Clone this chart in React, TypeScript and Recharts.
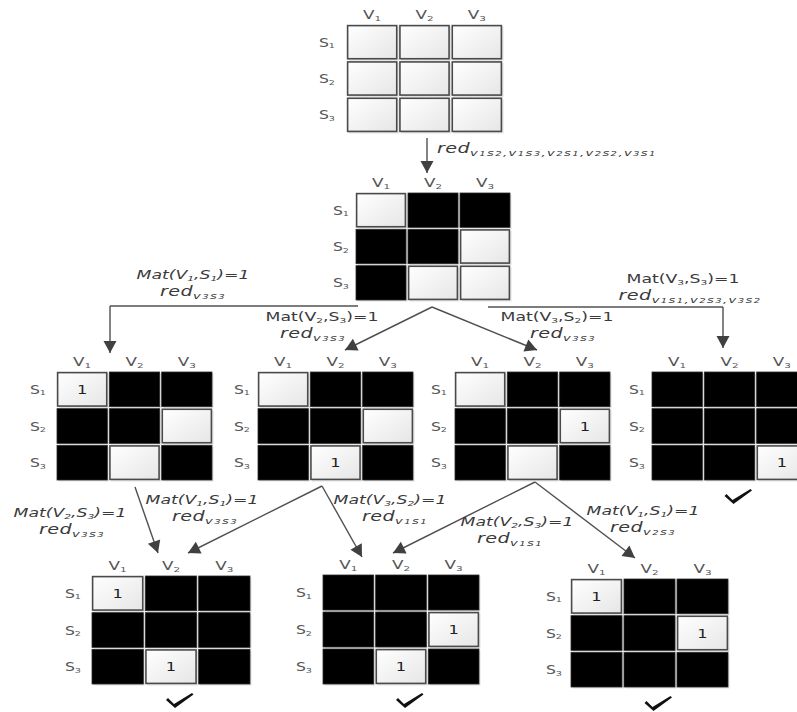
import React from 'react';
import { ScatterChart, Scatter, XAxis, YAxis, ReferenceLine } from 'recharts';

// ---------- data ----------
const colLabels = ['V1', 'V2', 'V3'];
const rowLabels = ['S1', 'S2', 'S3'];
// 0 = eliminated (black), 1 = open (white), 2 = assigned (white, "1")
const matStart = [[1, 1, 1], [1, 1, 1], [1, 1, 1]];
const matReduced = [[1, 0, 0], [0, 0, 1], [0, 1, 1]];
const matA = [[2, 0, 0], [0, 0, 1], [0, 1, 0]];
const matB = [[1, 0, 0], [0, 0, 1], [0, 2, 0]];
const matC = [[1, 0, 0], [0, 0, 2], [0, 1, 0]];
const matD = [[0, 0, 0], [0, 0, 0], [0, 0, 2]];
const matE = [[2, 0, 0], [0, 0, 0], [0, 2, 0]];
const matF = [[0, 0, 0], [0, 0, 2], [0, 2, 0]];
const matG = [[2, 0, 0], [0, 0, 2], [0, 0, 0]];
const matrices = [matStart, matReduced, matA, matB, matC, matD, matE, matF, matG];
const solved = [false, false, false, false, false, true, true, true, true];

const conditions = [
  'Mat(V1,S1)=1', 'Mat(V2,S3)=1', 'Mat(V3,S2)=1', 'Mat(V3,S3)=1',
  'Mat(V2,S3)=1', 'Mat(V1,S1)=1', 'Mat(V3,S2)=1', 'Mat(V2,S3)=1', 'Mat(V1,S1)=1',
];
const reductions = [
  'v1s2,v1s3,v2s1,v2s2,v3s1',
  'v3s3', 'v3s3', 'v3s3', 'v1s1,v2s3,v3s2',
  'v3s3', 'v3s3', 'v1s1', 'v1s1', 'v2s3',
];

// ---------- layout (data units of the hidden axes) ----------
const matrixLayout = [
  { x: 346, y: 24, w: 157, h: 109, sdx: -19 },
  { x: 355, y: 192, w: 156, h: 109, sdx: -14 },
  { x: 56, y: 371, w: 157, h: 110, sdx: -18 },
  { x: 257, y: 371, w: 157, h: 110, sdx: -15 },
  { x: 454, y: 371, w: 157, h: 110, sdx: -15 },
  { x: 651, y: 371, w: 157, h: 110, sdx: -14 },
  { x: 91, y: 575, w: 160, h: 110, sdx: -18 },
  { x: 322, y: 574, w: 158, h: 111, sdx: -18 },
  { x: 570, y: 578, w: 159, h: 110, sdx: -16 },
];
const conditionLayout = [
  { x: 193, y: 279, it: true }, { x: 322, y: 321, it: false }, { x: 557, y: 321, it: false }, { x: 683, y: 283, it: false },
  { x: 70, y: 517, it: true }, { x: 202, y: 504, it: true }, { x: 390, y: 504, it: true }, { x: 517, y: 526, it: true }, { x: 643, y: 515, it: true },
];
const reductionLayout = [
  { x: 437, y: 153, a: 'start' },
  { x: 193, y: 296, a: 'middle' }, { x: 313, y: 338, a: 'middle' }, { x: 563, y: 338, a: 'middle' }, { x: 690, y: 300, a: 'middle' },
  { x: 72, y: 534, a: 'middle' }, { x: 205, y: 521, a: 'middle' }, { x: 395, y: 521, a: 'middle' }, { x: 510, y: 543, a: 'middle' }, { x: 643, y: 532, a: 'middle' },
];
const arrowPaths = [
  [[427, 138], [427, 173]],
  [[358, 306], [110, 306], [110, 353]],
  [[432, 307], [345, 350]],
  [[432, 307], [537, 350]],
  [[488, 307], [723, 307], [723, 348]],
  [[135, 487], [158, 553]],
  [[322, 486], [188, 553]],
  [[322, 486], [362, 557]],
  [[535, 482], [393, 553]],
  [[535, 482], [635, 558]],
];

// ---------- derived point sets ----------
type Part = { t: string; s: number; d: number; ls: number };

function matParts(str: string): Part[] {
  const out: Part[] = [];
  for (let i = 0; i < str.length; i++) {
    const ch = str[i];
    const sub = /\d/.test(ch) && i > 0 && /[VS]/.test(str[i - 1]);
    out.push(sub ? { t: ch, s: 0.62, d: 1.5, ls: 0 } : { t: ch, s: 1, d: 0, ls: 0 });
  }
  return out;
}
function redParts(sub: string): Part[] {
  const out: Part[] = [{ t: 'red', s: 1, d: 0, ls: 0.3 }];
  for (const ch of sub)
    out.push(/\d/.test(ch) ? { t: ch, s: 0.52, d: 2.5, ls: 1 } : { t: ch, s: 0.68, d: 2.5, ls: 1 });
  return out;
}
function merge(parts: Part[]): Part[] {
  const out: Part[] = [];
  for (const p of parts) {
    const last = out[out.length - 1];
    if (last && last.s === p.s && last.d === p.d && last.ls === p.ls) last.t += p.t;
    else out.push({ ...p });
  }
  return out;
}

const cellPoints: any[] = [];
const textPoints: any[] = [];
const checkPoints: any[] = [];
matrices.forEach((m, mi) => {
  const L = matrixLayout[mi];
  const cw = L.w / 3;
  const ch = L.h / 3;
  m.forEach((row, r) =>
    row.forEach((v, c) => {
      cellPoints.push({ x: L.x + (c + 0.5) * cw, y: L.y + (r + 0.5) * ch, cw, ch, v, id: `g${mi}_${r}_${c}` });
    })
  );
  colLabels.forEach((lab, c) =>
    textPoints.push({ x: L.x + (c + 0.5) * cw, y: L.y - 5, parts: merge(matParts(lab)), size: 12, it: false, a: 'middle', sx: 1.4, fill: '#555' })
  );
  rowLabels.forEach((lab, r) =>
    textPoints.push({ x: L.x + L.sdx, y: L.y + (r + 0.5) * ch + 4.5, parts: merge(matParts(lab)), size: 12, it: false, a: 'middle', sx: 1.3, fill: '#555' })
  );
  if (solved[mi]) checkPoints.push({ x: L.x + L.w / 2 + 9, y: L.y + L.h + 16 });
});
conditions.forEach((t, i) => {
  const L = conditionLayout[i];
  textPoints.push({ x: L.x, y: L.y, parts: merge(matParts(t)), size: 12.5, it: L.it, a: 'middle', sx: 1.38, fill: '#3a3a3a' });
});
reductions.forEach((t, i) => {
  const L = reductionLayout[i];
  textPoints.push({ x: L.x, y: L.y, parts: merge(redParts(t)), size: 13.5, it: true, a: L.a, sx: 1.42, fill: '#3a3a3a' });
});
const segments: { x1: number; y1: number; x2: number; y2: number }[] = [];
const headPoints: any[] = [];
arrowPaths.forEach((pts) => {
  for (let i = 0; i < pts.length - 1; i++) segments.push({ x1: pts[i][0], y1: pts[i][1], x2: pts[i + 1][0], y2: pts[i + 1][1] });
  const a = pts[pts.length - 2];
  const b = pts[pts.length - 1];
  headPoints.push({ x: b[0], y: b[1], ang: (Math.atan2(b[1] - a[1], b[0] - a[0]) * 180) / Math.PI });
});

// ---------- shapes ----------
const FONT = "'DejaVu Sans', Verdana, sans-serif";

const CellShape = (props: any) => {
  const { cx, cy, payload } = props;
  const w = payload.cw;
  const h = payload.ch;
  const x0 = cx - w / 2 + 1;
  const y0 = cy - h / 2 + 1;
  const ww = w - 2;
  const hh = h - 2;
  if (payload.v === 0) {
    return (
      <g>
        <rect x={x0 + 1.5} y={y0 + 1.5} width={ww} height={hh} fill="#cfcfcf" opacity={0.6} />
        <rect x={x0} y={y0} width={ww} height={hh} fill="#000" stroke="#2a2a2a" strokeWidth={0.8} />
      </g>
    );
  }
  return (
    <g>
      <defs>
        <linearGradient id={payload.id} x1="0" y1="0" x2="1" y2="1">
          <stop offset="0" stopColor="#ffffff" />
          <stop offset="1" stopColor="#e6e6e6" />
        </linearGradient>
      </defs>
      <rect x={x0 + 1.5} y={y0 + 1.5} width={ww} height={hh} fill="#cfcfcf" opacity={0.6} />
      <rect x={x0 + 0.6} y={y0 + 0.6} width={ww - 1.2} height={hh - 1.2} fill={`url(#${payload.id})`} stroke="#4a4a4a" strokeWidth={1.6} />
      {payload.v === 2 && (
        <text transform={`translate(${cx},${cy + 4.5}) scale(1.3,1)`} textAnchor="middle" fontSize={12.5} fontFamily={FONT} fill="#222">
          1
        </text>
      )}
    </g>
  );
};

const TextShape = (props: any) => {
  const { cx, cy, payload } = props;
  let cur = 0;
  return (
    <text
      transform={`translate(${cx},${cy}) scale(${payload.sx},1)`}
      textAnchor={payload.a}
      fontSize={payload.size}
      fontStyle={payload.it ? 'italic' : 'normal'}
      fontFamily={FONT}
      fill={payload.fill}
    >
      {payload.parts.map((p: Part, i: number) => {
        const dy = p.d - cur;
        cur = p.d;
        return (
          <tspan key={i} fontSize={payload.size * p.s} dy={dy} letterSpacing={p.ls}>
            {p.t}
          </tspan>
        );
      })}
    </text>
  );
};

const HeadShape = (props: any) => {
  const { cx, cy, payload } = props;
  return <polygon points="0,0 -12,-6.5 -12,6.5" fill="#404040" transform={`translate(${cx},${cy}) rotate(${payload.ang})`} />;
};

const CheckShape = (props: any) => {
  const { cx, cy } = props;
  return (
    <polygon
      points="-14,-1 -12,-3 -6,3 12,-8 13.5,-6.5 -5,7"
      fill="#111"
      transform={`translate(${cx},${cy})`}
    />
  );
};

export default function App() {
  return (
    <div style={{ position: 'absolute', left: 0, top: 0, width: 797, height: 712, background: '#fff' }}>
      <ScatterChart width={797} height={712} margin={{ top: 0, right: 0, bottom: 0, left: 0 }}>
        <XAxis type="number" dataKey="x" domain={[0, 797]} hide />
        <YAxis type="number" dataKey="y" domain={[0, 712]} reversed hide />
        {segments.map((s, i) => (
          <ReferenceLine
            key={i}
            segment={[{ x: s.x1, y: s.y1 }, { x: s.x2, y: s.y2 }]}
            stroke="#505050"
            strokeWidth={1.4}
            ifOverflow="visible"
          />
        ))}
        <Scatter data={cellPoints} shape={CellShape} isAnimationActive={false} />
        <Scatter data={headPoints} shape={HeadShape} isAnimationActive={false} />
        <Scatter data={checkPoints} shape={CheckShape} isAnimationActive={false} />
        <Scatter data={textPoints} shape={TextShape} isAnimationActive={false} />
      </ScatterChart>
    </div>
  );
}
